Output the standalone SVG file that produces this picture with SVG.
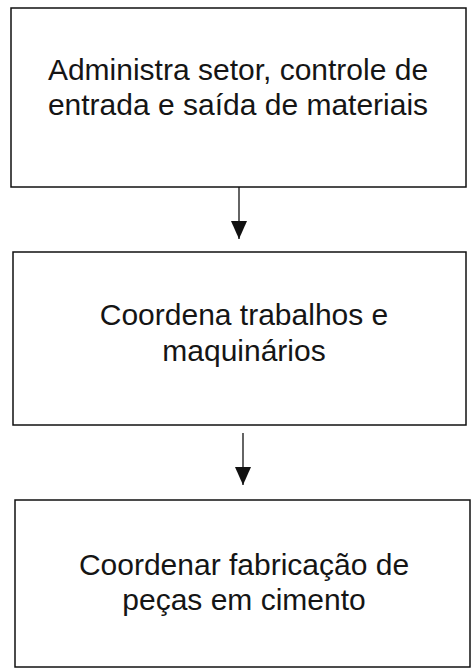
<svg xmlns="http://www.w3.org/2000/svg" width="473" height="671" viewBox="0 0 473 671">
<style>
.box{fill:#fff;stroke:#111;stroke-width:1.5}
.t{font-family:"Liberation Sans",Arial,sans-serif;font-size:30px;fill:#151515;text-anchor:middle}
.c{stroke:#111;stroke-width:1.3;fill:none}
</style>
<defs>
<marker id="ah" markerWidth="18" markerHeight="16" refX="18" refY="8" orient="auto" markerUnits="userSpaceOnUse" viewBox="0 0 18 16">
<path d="M0,0 L18,8 L0,16 Z" fill="#111"/>
</marker>
</defs>
<rect width="473" height="671" fill="#fff"/>
<g id="node1">
<rect class="box" x="11" y="8" width="455" height="179"/>
<text class="t" x="238" y="80">Administra setor, controle de</text>
<text class="t" x="238" y="115">entrada e saída de materiais</text>
</g>
<g id="node2">
<rect class="box" x="13" y="252" width="453" height="173"/>
<text class="t" x="244" y="325">Coordena trabalhos e</text>
<text class="t" x="244" y="361">maquinários</text>
</g>
<g id="node3">
<rect class="box" x="15" y="500" width="455" height="167"/>
<text class="t" x="244" y="575">Coordenar fabricação de</text>
<text class="t" x="244" y="610">peças em cimento</text>
</g>
<g id="connectors">
<line class="c" x1="239" y1="187" x2="239" y2="239" marker-end="url(#ah)"/>
<line class="c" x1="243" y1="433" x2="243" y2="485" marker-end="url(#ah)"/>
</g>
</svg>
